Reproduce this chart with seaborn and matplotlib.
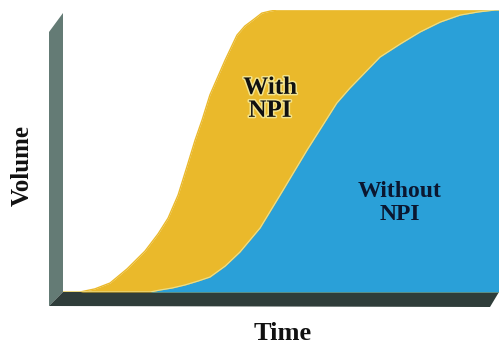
import matplotlib
matplotlib.use("Agg")
import matplotlib.pyplot as plt
import matplotlib.patheffects as pe
from matplotlib.patches import Polygon
import seaborn as sns
import pandas as pd

# Adoption curves: time (0-100) vs cumulative volume (0-100)
with_npi_time = [0.0, 3.9, 7.3, 10.8, 14.7, 18.8, 21.8, 24.1, 26.4, 28.4, 30.3, 31.9,
                 33.7, 37.2, 39.9, 41.7, 43.6, 45.6, 47.5, 49.1, 54.4, 100.0]
with_npi_volume = [0.0, 0.0, 1.1, 3.2, 8.2, 14.5, 20.6, 26.2, 34.4, 44.3, 53.9, 61.0,
                   69.9, 82.3, 91.1, 94.3, 96.5, 98.9, 99.6, 100.0, 100.0, 100.0]

without_npi_time = [0.0, 20.0, 22.2, 25.0, 28.0, 31.0, 33.7, 37.2, 40.6, 45.2, 50.5,
                    56.0, 62.8, 65.8, 72.7, 77.3, 81.9, 86.5, 91.1, 95.2, 99.1, 100.0]
without_npi_volume = [0.0, 0.0, 0.7, 1.4, 2.5, 3.9, 5.3, 9.2, 14.2, 22.7, 36.2,
                      50.4, 67.0, 72.3, 83.3, 87.9, 92.2, 95.7, 98.2, 99.3, 100.0, 100.0]

series_labels = ["With\nNPI", "Without\nNPI"]
x_label = "Time"
y_label = "Volume"

YELLOW = "#EAB92B"
BLUE = "#2AA0D8"
WALL = "#647B75"
FLOOR = "#2F3D3A"

sns.set_style("white")
plt.rcParams["font.family"] = ["Liberation Serif", "DejaVu Serif"]

W, H = 499, 348
fig = plt.figure(figsize=(W / 100, H / 100), dpi=100)

# Backdrop axes in pixel units for the wall, floor and axis titles
bg = fig.add_axes([0, 0, 1, 1])
bg.set_xlim(0, W)
bg.set_ylim(H, 0)
bg.axis("off")
bg.add_patch(Polygon([(49, 32), (63, 13), (63, 292), (49, 306)],
                     closed=True, facecolor=WALL, edgecolor="none"))
bg.add_patch(Polygon([(49, 306), (63, 292), (499, 292), (490, 307)],
                     closed=True, facecolor=FLOOR, edgecolor="none"))
bg.text(22, 165, y_label, rotation=90, ha="center", va="center",
        fontsize=18, fontweight="bold", color="#111111")
bg.text(283, 334, x_label, ha="center", va="center",
        fontsize=19, fontweight="bold", color="#111111")

# Plot area sitting on the floor, inside the wall
ax = fig.add_axes([63 / W, 56 / H, 436 / W, 282 / H])

df_with = pd.DataFrame({"time": with_npi_time, "volume": with_npi_volume})
df_without = pd.DataFrame({"time": without_npi_time, "volume": without_npi_volume})

ax.fill_between(df_with["time"], df_with["volume"], color=YELLOW, lw=0, zorder=1)
sns.lineplot(data=df_with, x="time", y="volume", ax=ax, color=YELLOW,
             lw=1, sort=False, zorder=2)
ax.fill_between(df_without["time"], df_without["volume"], color=BLUE, lw=0, zorder=3)
sns.lineplot(data=df_without, x="time", y="volume", ax=ax, color="#E9DD8A",
             lw=0.9, sort=False, zorder=4)
ax.set_xlim(0, 100)
ax.set_ylim(0, 100)
ax.axis("off")

bg.set_zorder(0)
ax.set_zorder(1)
ax.patch.set_visible(False)

ax.text(47.5, 68.5, series_labels[0], ha="center", va="center", fontsize=18,
        fontweight="bold", color="#111111", linespacing=1.0,
        path_effects=[pe.withStroke(linewidth=2.2, foreground="#F4E48C")])
ax.text(77.3, 31.5, series_labels[1], ha="center", va="center", fontsize=17,
        fontweight="bold", color="#0B1730", linespacing=1.12)

fig.savefig("out.png", dpi=100)
